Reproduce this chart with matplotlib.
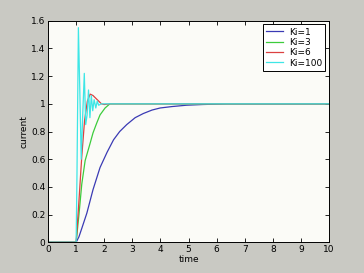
import matplotlib
matplotlib.use("Agg")
import matplotlib.pyplot as plt

# Data
t_k1 = [0, 1.0, 1.1, 1.2, 1.38, 1.6, 1.85, 2.1, 2.33, 2.55, 2.8, 3.1, 3.39, 3.7, 3.99, 4.4, 4.93, 5.5, 6.36, 10]
y_k1 = [0, 0, 0.04, 0.1, 0.21, 0.38, 0.54, 0.65, 0.74, 0.8, 0.85, 0.9, 0.93, 0.955, 0.97, 0.98, 0.99, 0.995, 1.0, 1.0]

t_k3 = [0, 1.0, 1.1, 1.2, 1.32, 1.49, 1.6, 1.73, 1.85, 2.03, 2.2, 10]
y_k3 = [0, 0, 0.2, 0.42, 0.59, 0.71, 0.79, 0.86, 0.92, 0.97, 1.0, 1.0]

t_k6 = [0, 1.0, 1.1, 1.2, 1.3, 1.4, 1.5, 1.6, 1.7, 1.8, 1.9, 2.0, 2.2, 10]
y_k6 = [0, 0, 0.3, 0.62, 0.88, 1.02, 1.07, 1.06, 1.04, 1.02, 1.0, 0.995, 1.0, 1.0]

t_k100 = [0, 1.0, 1.03, 1.08, 1.13, 1.18, 1.23, 1.29, 1.34, 1.39, 1.44, 1.49, 1.54, 1.59, 1.64, 1.7, 1.75, 1.8, 1.9, 2.0, 10]
y_k100 = [0, 0, 0.5, 1.55, 1.1, 0.6, 0.9, 1.22, 0.85, 0.92, 1.1, 0.9, 1.06, 0.95, 1.03, 0.97, 1.02, 0.99, 1.0, 1.0, 1.0]

labels = ["Ki=1", "Ki=3", "Ki=6", "Ki=100"]
xticks = list(range(0, 11))
yticks = [0, 0.2, 0.4, 0.6, 0.8, 1.0, 1.2, 1.4, 1.6]
ytick_labels = ["0", "0.2", "0.4", "0.6", "0.8", "1", "1.2", "1.4", "1.6"]

fig = plt.figure(figsize=(3.64, 2.73), dpi=100, facecolor="#c9c9c3")
ax = fig.add_axes([0.132, 0.1125, 0.772, 0.8115])
ax.set_facecolor("#fbfbf7")

colors = ["#3a3ab4", "#3ccc3c", "#dc4040", "#3ee6e6"]
series = [(t_k1, y_k1), (t_k3, y_k3), (t_k6, y_k6), (t_k100, y_k100)]
for (tt, yy), c, lab in zip(series, colors, labels):
    ax.plot(tt, yy, color=c, lw=0.9, label=lab)

ax.set_xlim(0, 10)
ax.set_ylim(0, 1.6)
ax.set_xticks(xticks)
ax.set_xticklabels([str(x) for x in xticks])
ax.set_yticks(yticks)
ax.set_yticklabels(ytick_labels)
ax.tick_params(direction="in", top=True, right=True, labelsize=6.5, length=3, width=0.6, pad=2)
for s in ax.spines.values():
    s.set_linewidth(0.7)
ax.set_xlabel("time", fontsize=6.5, labelpad=1)
ax.set_ylabel("current", fontsize=6.5, labelpad=2)

leg = ax.legend(loc="upper right", fontsize=6.5, frameon=True, fancybox=False,
                edgecolor="black", framealpha=1, handlelength=1.8, borderpad=0.35,
                labelspacing=0.15, handletextpad=0.7, borderaxespad=0.4)
leg.get_frame().set_linewidth(0.7)

fig.savefig("out.png", dpi=100, facecolor=fig.get_facecolor())
